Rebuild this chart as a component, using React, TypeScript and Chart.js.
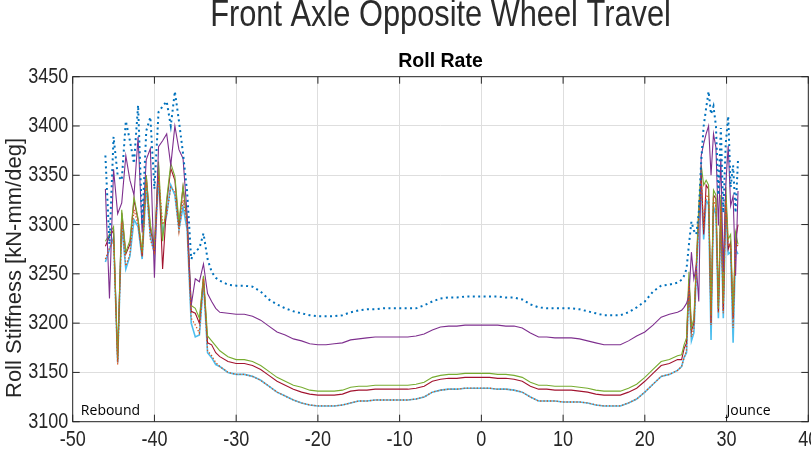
import { useEffect, useRef } from 'react';
import { Chart, registerables } from 'chart.js';

Chart.register(...registerables);

// Opposite wheel travel [mm]: coarse spacing in rebound, 1 mm through the mid range, fine spacing in jounce
const travel = [
  -46, -45.5, -45, -44.5, -44, -43.5, -43, -42.5, -42, -41.5, -41, -40.5, -40, -39.5,
  -39, -38.5, -38, -37.5, -37, -36.5, -36, -35.5, -35, -34.5, -34, -33.5, -33, -32.5,
  -32, -31, -30, -29, -28, -27, -26, -25, -24, -23, -22, -21, -20, -19, -18, -17, -16,
  -15, -14, -13, -12, -11, -10, -9, -8, -7, -6, -5, -4, -3, -2, -1, 0, 1, 2, 3, 4, 5,
  6, 7, 8, 9, 10, 11, 12, 13, 14, 15, 16, 17, 18, 19, 20, 21, 22, 23, 24,
  24.5, 24.8, 25.1, 25.4, 25.7, 26.0, 26.3, 26.6, 26.9, 27.2, 27.5, 27.8, 28.1, 28.4,
  28.7, 29.0, 29.3, 29.6, 29.9, 30.2, 30.5, 30.8, 31.1, 31.4,
];

// Roll stiffness [kN-mm/deg] for each setup
const setup1 = [
  3370, 3280, 3389, 3350, 3345, 3405, 3385, 3362, 3421, 3300, 3395, 3409, 3336, 3414,
  3420, 3425, 3400, 3435, 3405, 3372, 3333, 3265, 3273, 3276, 3291, 3265, 3252, 3246,
  3243, 3239, 3238, 3238, 3237, 3232, 3224, 3219, 3215, 3212, 3210, 3208, 3207, 3207, 3207, 3208, 3211,
  3213, 3214, 3214, 3215, 3215, 3215, 3215, 3215, 3218, 3222, 3225, 3226, 3226, 3227, 3227, 3227, 3227, 3227, 3226, 3226, 3224,
  3219, 3216, 3215, 3215, 3215, 3215, 3214, 3212, 3210, 3208, 3208, 3208, 3211, 3216, 3222, 3232, 3238, 3239, 3241,
  3244, 3248, 3255, 3280, 3303, 3294, 3290, 3312, 3365, 3400, 3418, 3435, 3412, 3420,
  3400, 3330, 3398, 3312, 3382, 3410, 3338, 3360, 3312, 3366,
];

const setup2 = [
  3265, 3276, 3285, 3158, 3302, 3258, 3270, 3315, 3300, 3268, 3345, 3285, 3272, 3350,
  3300, 3310, 3338, 3333, 3293, 3325, 3300, 3205, 3198, 3190, 3245, 3172, 3167, 3160,
  3156, 3150, 3148, 3148, 3146, 3142, 3136, 3130, 3126, 3122, 3119, 3117, 3116, 3116, 3116, 3117, 3119,
  3121, 3121, 3122, 3122, 3122, 3122, 3122, 3123, 3125, 3130, 3132, 3133, 3133, 3134, 3134, 3134, 3134, 3133, 3133, 3132, 3130,
  3125, 3121, 3121, 3121, 3120, 3120, 3120, 3119, 3117, 3116, 3116, 3116, 3119, 3123, 3130, 3138, 3146, 3148, 3152,
  3156, 3165, 3172, 3240, 3186, 3195, 3255, 3305, 3345, 3295, 3330, 3328, 3198, 3325,
  3318, 3210, 3318, 3210, 3325, 3278, 3280, 3195, 3282, 3278,
];

const setup3 = [
  3336, 3225, 3356, 3311, 3322, 3370, 3345, 3330, 3389, 3292, 3366, 3377, 3246, 3379,
  3385, 3392, 3360, 3400, 3376, 3367, 3310, 3218, 3245, 3242, 3260, 3230, 3222, 3215,
  3211, 3210, 3209, 3209, 3207, 3203, 3197, 3191, 3188, 3184, 3182, 3179, 3178, 3178, 3179, 3180, 3183,
  3184, 3185, 3186, 3186, 3186, 3186, 3186, 3187, 3189, 3193, 3196, 3197, 3197, 3198, 3198, 3198, 3198, 3198, 3197, 3197, 3195,
  3190, 3186, 3186, 3185, 3185, 3185, 3184, 3182, 3180, 3178, 3178, 3178, 3182, 3187, 3191, 3198, 3206, 3209, 3211,
  3213, 3216, 3220, 3228, 3272, 3245, 3258, 3222, 3370, 3382, 3392, 3400, 3350, 3392,
  3378, 3299, 3367, 3252, 3340, 3380, 3319, 3329, 3248, 3334,
];

const setup4 = [
  3283, 3290, 3298, 3163, 3315, 3272, 3284, 3328, 3306, 3272, 3350, 3300, 3278, 3364,
  3283, 3326, 3362, 3349, 3303, 3339, 3306, 3218, 3215, 3205, 3248, 3187, 3182, 3177,
  3172, 3166, 3163, 3163, 3161, 3157, 3151, 3145, 3141, 3137, 3135, 3132, 3131, 3131, 3131, 3132, 3135,
  3136, 3136, 3137, 3137, 3137, 3137, 3137, 3138, 3140, 3145, 3147, 3148, 3148, 3149, 3149, 3149, 3149, 3148, 3148, 3147, 3145,
  3140, 3137, 3137, 3136, 3136, 3136, 3135, 3134, 3132, 3131, 3131, 3131, 3134, 3138, 3145, 3153, 3161, 3163, 3167,
  3168, 3178, 3185, 3252, 3195, 3205, 3262, 3318, 3360, 3340, 3345, 3340, 3208, 3335,
  3330, 3215, 3330, 3220, 3338, 3285, 3290, 3210, 3292, 3280,
];

const setup5 = [
  3262, 3275, 3287, 3160, 3300, 3255, 3268, 3305, 3298, 3265, 3340, 3288, 3270, 3345,
  3290, 3310, 3340, 3330, 3295, 3318, 3295, 3200, 3186, 3188, 3242, 3170, 3165, 3158,
  3156, 3150, 3148, 3148, 3146, 3142, 3136, 3130, 3126, 3122, 3119, 3117, 3116, 3116, 3116, 3117, 3119,
  3121, 3121, 3122, 3122, 3122, 3122, 3122, 3123, 3125, 3130, 3132, 3133, 3133, 3134, 3134, 3134, 3134, 3133, 3133, 3132, 3130,
  3125, 3121, 3121, 3121, 3120, 3120, 3120, 3119, 3117, 3116, 3116, 3116, 3119, 3123, 3130, 3138, 3146, 3148, 3152,
  3156, 3165, 3170, 3238, 3182, 3190, 3250, 3300, 3340, 3285, 3325, 3320, 3183, 3318,
  3310, 3205, 3312, 3205, 3318, 3270, 3272, 3180, 3275, 3270,
];

const setup6 = [
  3278, 3288, 3294, 3161, 3312, 3270, 3280, 3325, 3304, 3268, 3350, 3296, 3275, 3360,
  3255, 3322, 3357, 3345, 3298, 3338, 3302, 3212, 3210, 3200, 3247, 3180, 3178, 3170,
  3166, 3161, 3159, 3159, 3157, 3153, 3147, 3141, 3137, 3133, 3130, 3128, 3127, 3127, 3127, 3128, 3131,
  3132, 3132, 3133, 3133, 3133, 3133, 3133, 3134, 3136, 3141, 3143, 3144, 3144, 3145, 3145, 3145, 3145, 3144, 3144, 3143, 3141,
  3136, 3133, 3133, 3132, 3132, 3132, 3131, 3130, 3128, 3127, 3127, 3127, 3130, 3134, 3141, 3149, 3157, 3159, 3163,
  3163, 3174, 3180, 3245, 3192, 3200, 3258, 3313, 3352, 3290, 3340, 3336, 3200, 3330,
  3326, 3212, 3325, 3212, 3330, 3275, 3282, 3205, 3285, 3300,
];

const xTicks = { min: -50, max: 40, step: 10 };
const yTicks = { min: 3100, max: 3450, step: 50 };

const SANS = "'Liberation Sans', Arial, Helvetica, sans-serif";
const AXIS_COLOR = '#262626';

// Drawing order: first entry ends up on top
const lines = [
  { label: 'Setup 1', values: setup1, color: '#0072BD', width: 2, dash: [2, 3.4] },
  { label: 'Setup 2', values: setup2, color: '#D95319', width: 1.3, dash: [1.3, 2] },
  { label: 'Setup 3', values: setup3, color: '#7E2F8E', width: 1.1, dash: [] },
  { label: 'Setup 4', values: setup4, color: '#77AC30', width: 1.1, dash: [] },
  { label: 'Setup 6', values: setup6, color: '#A2142F', width: 1.1, dash: [] },
  { label: 'Setup 5', values: setup5, color: '#4DBEEE', width: 1.6, dash: [] },
];

// Condensed text: regular sans squeezed horizontally
function narrowText(ctx: CanvasRenderingContext2D, text: string, x: number, y: number, align: CanvasTextAlign, squeeze: number) {
  ctx.save();
  ctx.translate(x, y);
  ctx.scale(squeeze, 1);
  ctx.textAlign = align;
  ctx.fillText(text, 0, 0);
  ctx.restore();
}

// Figure title, axis box with inward ticks, tick labels, y label and travel-direction notes
const framePlugin = {
  id: 'frame',
  afterDraw(chart: any) {
    const { ctx, chartArea: a, scales } = chart;
    const x = scales.x;
    const y = scales.y;
    const tick = 7;
    ctx.save();
    ctx.strokeStyle = AXIS_COLOR;
    ctx.lineWidth = 1;
    ctx.strokeRect(a.left, a.top, a.right - a.left, a.bottom - a.top);
    ctx.beginPath();
    for (const t of x.ticks) {
      const px = x.getPixelForValue(t.value);
      ctx.moveTo(px, a.bottom);
      ctx.lineTo(px, a.bottom - tick);
      ctx.moveTo(px, a.top);
      ctx.lineTo(px, a.top + tick);
    }
    for (const t of y.ticks) {
      const py = y.getPixelForValue(t.value);
      ctx.moveTo(a.left, py);
      ctx.lineTo(a.left + tick, py);
      ctx.moveTo(a.right, py);
      ctx.lineTo(a.right - tick, py);
    }
    ctx.stroke();

    // tick labels
    ctx.fillStyle = AXIS_COLOR;
    ctx.font = `22px ${SANS}`;
    ctx.textBaseline = 'middle';
    for (const t of x.ticks) {
      narrowText(ctx, String(t.value), x.getPixelForValue(t.value), a.bottom + 18, 'center', 0.82);
    }
    for (const t of y.ticks) {
      narrowText(ctx, String(t.value), a.left - 4.4, y.getPixelForValue(t.value), 'right', 0.82);
    }

    // figure title
    ctx.font = `36px ${SANS}`;
    ctx.fillStyle = '#2b2b2b';
    narrowText(ctx, 'Front Axle Opposite Wheel Travel', (a.left + a.right) / 2, 16, 'center', 0.855);

    // travel-direction notes
    ctx.fillStyle = '#000';
    ctx.font = "14px 'Open Sans', 'Noto Sans', sans-serif";
    ctx.textAlign = 'left';
    ctx.fillText('Rebound', x.getPixelForValue(-49), y.getPixelForValue(3111));
    ctx.fillText('Jounce', x.getPixelForValue(30), y.getPixelForValue(3111));

    // y label
    ctx.fillStyle = AXIS_COLOR;
    ctx.font = `22px ${SANS}`;
    ctx.textAlign = 'center';
    ctx.translate(15, 268);
    ctx.rotate(-Math.PI / 2);
    ctx.fillText('Roll Stiffness [kN-mm/deg]', 0, 0);
    ctx.restore();
  },
};

export default function App() {
  const canvasRef = useRef<HTMLCanvasElement | null>(null);

  useEffect(() => {
    const canvas = canvasRef.current;
    if (!canvas) return;
    const chart = new Chart(canvas, {
      type: 'line',
      data: {
        datasets: lines.map((s) => ({
          label: s.label,
          data: travel.map((t, i) => ({ x: t, y: s.values[i] })),
          borderColor: s.color,
          backgroundColor: s.color,
          borderWidth: s.width,
          borderDash: s.dash,
          pointRadius: 0,
          tension: 0,
          fill: false,
        })),
      },
      options: {
        animation: false,
        responsive: false,
        devicePixelRatio: 1,
        layout: { padding: { left: 0, right: 2.7, top: 0, bottom: 0 } },
        plugins: {
          legend: { display: false },
          tooltip: { enabled: false },
          title: { display: false },
          subtitle: {
            display: true,
            text: 'Roll Rate',
            fullSize: false,
            color: '#000',
            font: { family: SANS, size: 19.5, weight: 'bold', lineHeight: 1 },
            padding: { top: 52.2, bottom: 5 },
          },
        },
        scales: {
          x: {
            type: 'linear',
            min: xTicks.min,
            max: xTicks.max,
            ticks: { stepSize: xTicks.step, autoSkip: false, display: false },
            grid: { color: '#dedede', lineWidth: 1, drawTicks: false },
            border: { display: false },
            afterFit: (s: any) => {
              s.height = 31.3;
              s.paddingLeft = 0;
              s.paddingRight = 0;
            },
          },
          y: {
            type: 'linear',
            min: yTicks.min,
            max: yTicks.max,
            ticks: { stepSize: yTicks.step, display: false },
            grid: { color: '#dedede', lineWidth: 1, drawTicks: false },
            border: { display: false },
            afterFit: (s: any) => {
              s.width = 72.7;
              s.paddingTop = 0;
              s.paddingBottom = 0;
            },
          },
        },
      },
      plugins: [framePlugin],
    });
    return () => chart.destroy();
  }, []);

  return (
    <div style={{ position: 'fixed', left: 0, top: 0, width: 811, height: 453, background: '#fff' }}>
      <canvas ref={canvasRef} width={811} height={453} style={{ display: 'block' }} />
    </div>
  );
}
